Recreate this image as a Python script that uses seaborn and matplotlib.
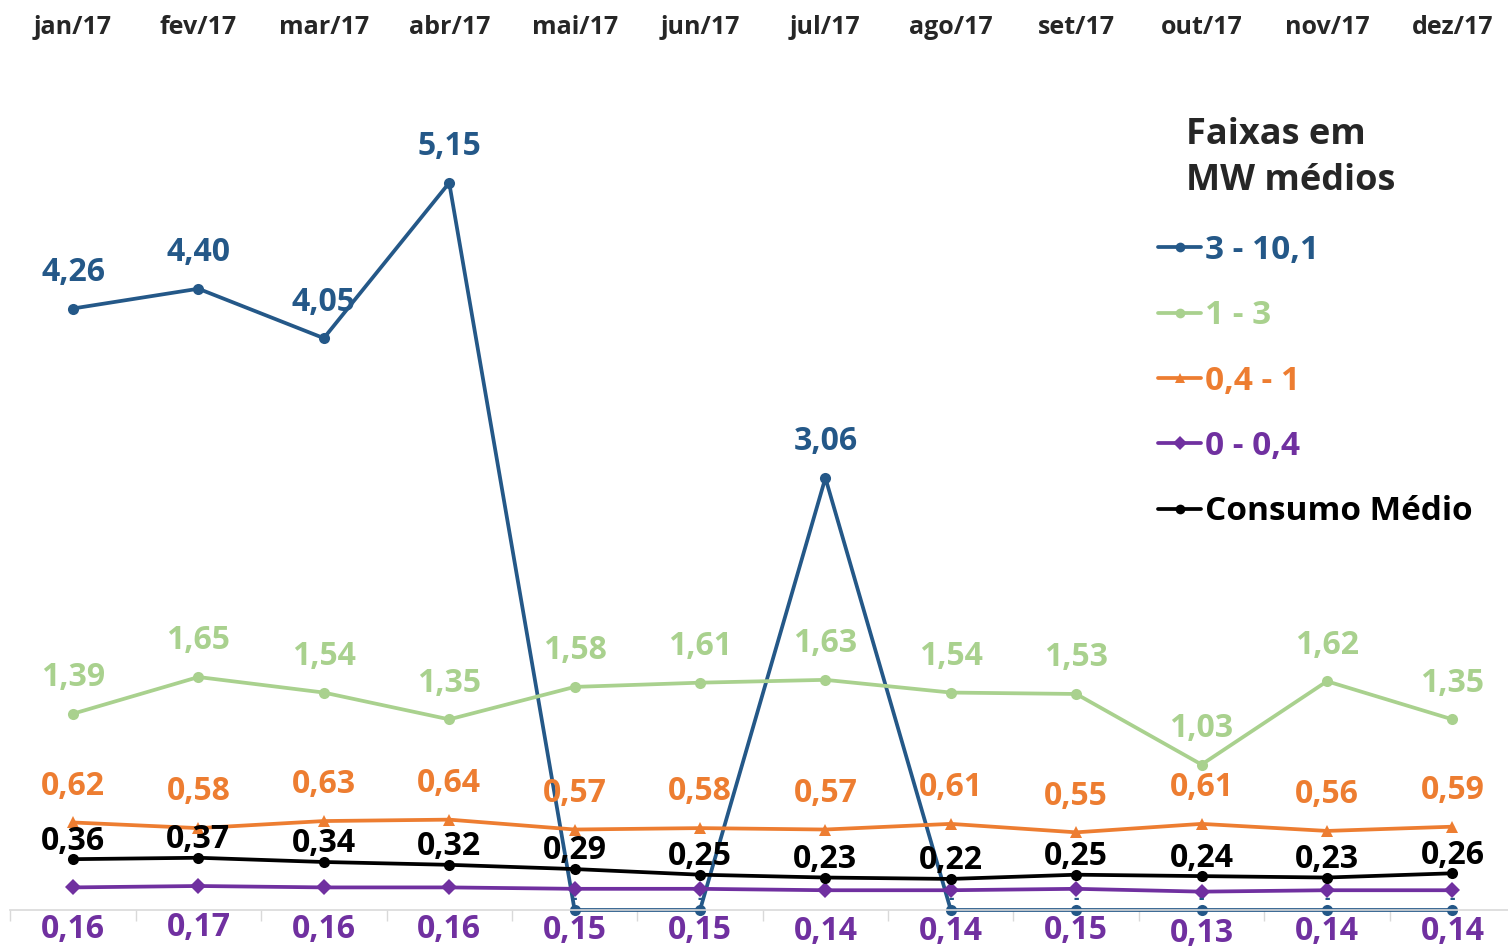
import numpy as np
import pandas as pd
import seaborn as sns
import matplotlib.pyplot as plt
from matplotlib.ticker import FixedLocator

# data
months = ['jan/17', 'fev/17', 'mar/17', 'abr/17', 'mai/17', 'jun/17',
          'jul/17', 'ago/17', 'set/17', 'out/17', 'nov/17', 'dez/17']
faixa_3_10 = [4.26, 4.40, 4.05, 5.15, 0, 0, 3.06, 0, 0, 0, 0, 0]
faixa_1_3 = [1.39, 1.65, 1.54, 1.35, 1.58, 1.61, 1.63, 1.54, 1.53, 1.03, 1.62, 1.35]
faixa_04_1 = [0.62, 0.58, 0.63, 0.64, 0.57, 0.58, 0.57, 0.61, 0.55, 0.61, 0.56, 0.59]
faixa_0_04 = [0.16, 0.17, 0.16, 0.16, 0.15, 0.15, 0.14, 0.14, 0.15, 0.13, 0.14, 0.14]
consumo_medio = [0.36, 0.37, 0.34, 0.32, 0.29, 0.25, 0.23, 0.22, 0.25, 0.24, 0.23, 0.26]

series = [
    # name, values, colour, marker, marker size, label offset (pt)
    ('3 - 10,1', faixa_3_10, '#245888', 'o', 8, 26),
    ('1 - 3', faixa_1_3, '#A9D18E', 'o', 8, 26),
    ('0,4 - 1', faixa_04_1, '#ED7D31', '^', 8, 26),
    ('0 - 0,4', faixa_0_04, '#7030A0', 'D', 8, -30),
    ('Consumo Médio', consumo_medio, '#000000', 'o', 8, 13),
]

sns.set_style('white')
plt.rcParams['font.family'] = ['Open Sans', 'DejaVu Sans']
plt.rcParams['font.weight'] = 'bold'

fig = plt.figure(figsize=(15.08, 9.47), dpi=100)
ax = fig.add_axes([10.3 / 1508, 37 / 947, 1504.8 / 1508, 850 / 947])

x = np.arange(len(months))
for name, vals, color, marker, ms, off in series:
    df = pd.DataFrame({'mes': x, 'valor': vals})
    sns.lineplot(data=df, x='mes', y='valor', ax=ax, color=color, lw=2.7,
                 marker=marker, markersize=ms, markeredgewidth=0, label=name,
                 clip_on=False)
    for xi, v in zip(x, vals):
        txt = f'{v:.2f}'.replace('.', ',') if v > 0 else '-'
        ax.annotate(txt, (xi, v), xytext=(0, off if v > 0 else 8),
                    textcoords='offset points', ha='center', va='center',
                    fontsize=23 if v > 0 else 12, fontweight='bold', color=color)

ax.set_xlim(-0.5, 11.5)
ax.set_ylim(0, 6.02)
ax.set_xlabel('')
ax.set_ylabel('')
ax.set_yticks([])
ax.set_xticks(x)
ax.set_xticklabels(months, fontsize=18, fontweight='bold')
ax.xaxis.set_minor_locator(FixedLocator(np.arange(-0.5, 12, 1)))
ax.tick_params(axis='x', which='major', bottom=False, top=False,
               labelbottom=False, labeltop=True, pad=11)
ax.tick_params(axis='x', which='minor', bottom=True, top=False,
               length=8, width=1, color='#D9D9D9')
for s in ['top', 'left', 'right']:
    ax.spines[s].set_visible(False)
ax.spines['bottom'].set_color('#D9D9D9')
ax.spines['bottom'].set_linewidth(1.2)

leg = ax.legend(loc='upper left', bbox_to_anchor=(1128 / 1508, 1 - 204 / 947),
                bbox_transform=fig.transFigure, frameon=False,
                handlelength=1.3, handletextpad=0.1, labelspacing=0.97,
                labelcolor='linecolor', prop={'weight': 'bold', 'size': 24})
for h in leg.legend_handles:
    h.set_markersize(7)
fig.text(1186 / 1508, 1 - 158 / 947, 'Faixas em\nMW médios', fontsize=26,
         fontweight='bold', va='center', ha='left', linespacing=1.4)

fig.savefig('out.png', dpi=100)
